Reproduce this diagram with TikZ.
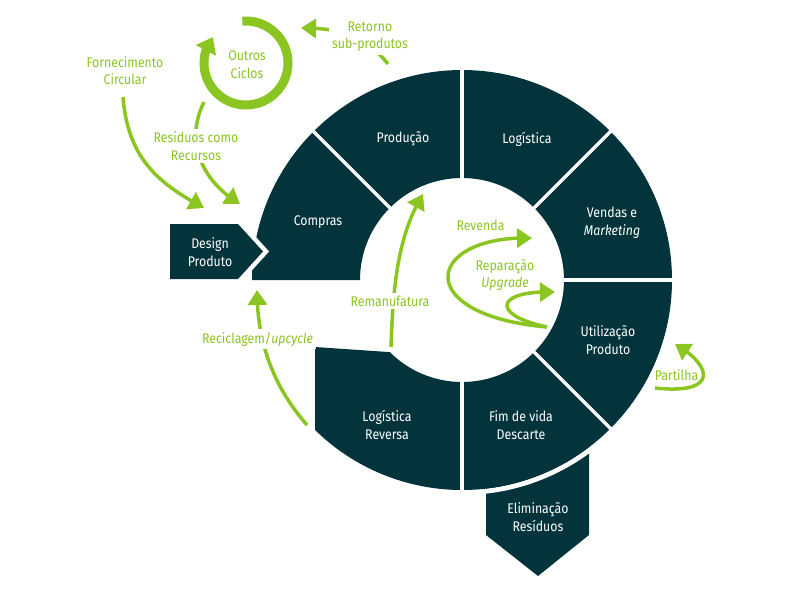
\documentclass[tikz,border=0pt]{standalone}
\usepackage{fontspec}
\setmainfont[FakeStretch=0.88]{Fira Sans}
\usetikzlibrary{arrows.meta,bending}
\definecolor{dteal}{RGB}{3,52,60}
\definecolor{lgreen}{RGB}{139,197,34}
\tikzset{
  segtext/.style={text=white, align=center, font=\fontsize{14}{17.5}\selectfont},
  gtext/.style={text=lgreen, align=center, font=\fontsize{14}{17.5}\selectfont},
  gtextw/.style={gtext, fill=white, inner sep=3pt},
  garrow/.style={draw=lgreen, line width=3.5pt, -{Triangle[length=15pt,width=19pt]}},
  divider/.style={draw=white, line width=3.5pt},
  ringarrow/.style={draw=lgreen, line width=9pt, -{Triangle[length=15pt,width=22pt]}},
}
\begin{document}
\begin{tikzpicture}[x=1pt,y=1pt]
\useasboundingbox (0,0) rectangle (792,-594);
% Eliminacao residuos
\fill[dteal] (486,-440) -- (589,-440) -- (589,-535) -- (538,-576) -- (486,-535) -- cycle;
% ring
\begin{scope}[shift={(462,-280)}]
  \draw[white, line width=5pt] (-48:212.5pt) arc[start angle=-48, end angle=-88, radius=212.5pt];
  \fill[dteal] (-90:102pt) -- (-90:210pt) arc[start angle=-90, end angle=180, radius=210pt]
     -- (180:102pt) arc[start angle=180, end angle=-90, radius=102pt] -- cycle;
  \fill[dteal] (-90:102pt) -- (-90:210pt) arc[start angle=-90, end angle=-134.43, radius=210pt]
     -- (-147pt,-67pt) -- (-135:102pt) arc[start angle=-135, end angle=-90, radius=102pt] -- cycle;
  \foreach \a in {135,90,45,0,-45,-90} \draw[divider] (\a:99pt) -- (\a:213pt);
\end{scope}
% Design produto
\draw[white, line width=9pt, miter limit=10] (170,-224) -- (238,-224) -- (263,-251.5) -- (238,-279) -- (170,-279) -- cycle;
\fill[dteal] (170,-224) -- (238,-224) -- (263,-251.5) -- (238,-279) -- (170,-279) -- cycle;
% white labels
\node[segtext] (design) at (210,-252) {Design\\Produto};
\node[segtext] (compras) at (318,-222) {Compras};
\node[segtext] (producao) at (403,-139) {Produção};
\node[segtext] (logistica) at (527,-139) {Logística};
\node[segtext] (vendas) at (612,-223) {Vendas e\\\textit{Marketing}};
\node[segtext] (utilizacao) at (608,-340) {Utilização\\Produto};
\node[segtext] (fim) at (521,-425) {Fim de vida\\Descarte};
\node[segtext] (reversa) at (387,-425) {Logística\\Reversa};
\node[segtext] (elimina) at (538,-517) {Eliminação\\Resíduos};
% green arrows
\coordinate (oc) at (246,-63);
\draw[ringarrow] (oc) ++(95:42pt) arc[start angle=95, end angle=-218, radius=42pt];
\coordinate (fcA) at (123,-97);  \coordinate (fcB) at (204,-208);
\draw[garrow] (fcA) .. controls (128,-160) and (160,-184) .. (fcB);
\coordinate (rrA) at (204,-102); \coordinate (rrB) at (240,-204);
\draw[garrow] (rrA) .. controls (185,-140) and (200,-180) .. (rrB);
\coordinate (rtA) at (388,-64);  \coordinate (rtB) at (301,-28);
\draw[garrow] (rtA) .. controls (365,-35) and (340,-28) .. (rtB);
\coordinate (rmA) at (391,-347); \coordinate (rmB) at (423,-194);
\draw[garrow] (rmA) .. controls (393,-285) and (398,-235) .. (rmB);
\coordinate (rcA) at (307,-425); \coordinate (rcB) at (257,-290);
\draw[garrow] (rcA) .. controls (272,-385) and (257,-340) .. (rcB);
\coordinate (rvA) at (547,-327); \coordinate (rvB) at (532,-238); \coordinate (rpB) at (555,-292);
\draw[garrow] (rvA) .. controls (410,-315) and (425,-235) .. (rvB);
\draw[garrow] (rvA) .. controls (490,-315) and (495,-290) .. (rpB);
\coordinate (ptA) at (655,-388); \coordinate (ptB) at (675,-344);
\draw[garrow] (ptA) .. controls (720,-395) and (712,-365) .. (ptB);
% green labels
\node[gtext] (outros) at (247,-64.5) {Outros\\Ciclos};
\node[gtext] (fornec) at (125,-70.5) {Fornecimento\\Circular};
\node[gtextw] (retorno) at (370,-36.5) {Retorno\\sub-produtos};
\node[gtextw] (residuos) at (196,-146) {Resíduos como\\Recursos};
\node[gtextw] (reman) at (390,-301) {Remanufatura};
\node[gtextw] (recicl) at (257.5,-339) {Reciclagem/\textit{upcycle}};
\node[gtext] (revenda) at (480.5,-225) {Revenda};
\node[gtext] (repar) at (505,-275) {Reparação\\\textit{Upgrade}};
\node[gtext] (partilha) at (676.5,-375) {Partilha};
\end{tikzpicture}
\end{document}
